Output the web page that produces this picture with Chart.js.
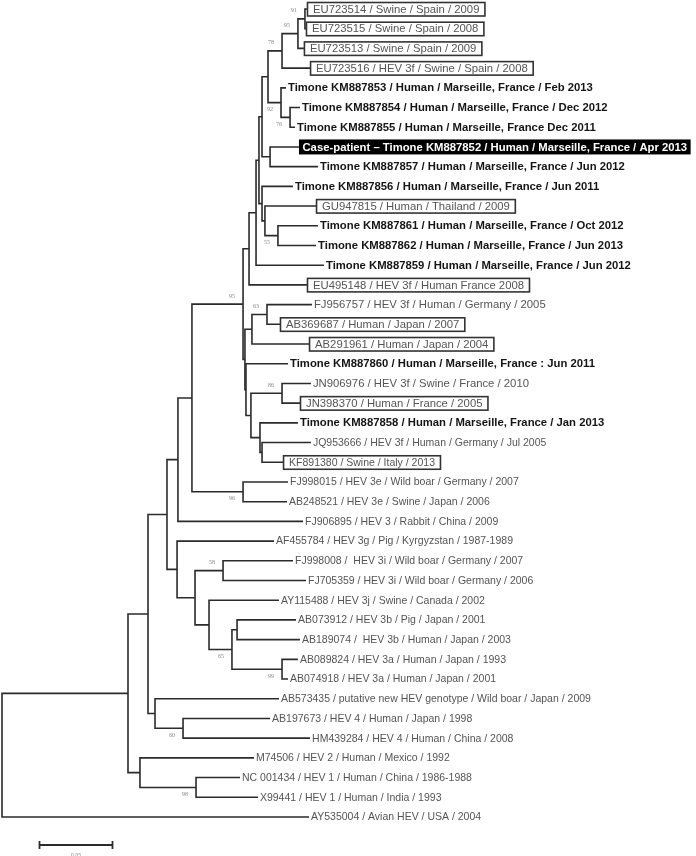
<!DOCTYPE html>
<html><head><meta charset="utf-8">
<script src="https://cdn.jsdelivr.net/npm/chart.js@4.4.1/dist/chart.umd.min.js"></script>
<style>html,body{margin:0;padding:0;background:#fff}canvas{display:block}</style>
</head><body>
<canvas id="c" width="696" height="856"></canvas>
<script>
// ---------------- DATA ----------------
const leafLabels = [
  'EU723514 / Swine / Spain / 2009',
  'EU723515 / Swine / Spain / 2008',
  'EU723513 / Swine / Spain / 2009',
  'EU723516 / HEV 3f / Swine / Spain / 2008',
  'Timone KM887853 / Human / Marseille, France / Feb 2013',
  'Timone KM887854 / Human / Marseille, France / Dec 2012',
  'Timone KM887855 / Human / Marseille, France Dec 2011',
  'Case-patient \u2013 Timone KM887852 / Human / Marseille, France / Apr 2013',
  'Timone KM887857 / Human / Marseille, France / Jun 2012',
  'Timone KM887856 / Human / Marseille, France / Jun 2011',
  'GU947815 / Human / Thailand / 2009',
  'Timone KM887861 / Human / Marseille, France / Oct 2012',
  'Timone KM887862 / Human / Marseille, France / Jun 2013',
  'Timone KM887859 / Human / Marseille, France / Jun 2012',
  'EU495148 / HEV 3f / Human France 2008',
  'FJ956757 / HEV 3f / Human / Germany / 2005',
  'AB369687 / Human / Japan / 2007',
  'AB291961 / Human / Japan / 2004',
  'Timone KM887860 / Human / Marseille, France : Jun 2011',
  'JN906976 / HEV 3f / Swine / France / 2010',
  'JN398370 / Human / France / 2005',
  'Timone KM887858 / Human / Marseille, France / Jan 2013',
  'JQ953666 / HEV 3f / Human / Germany / Jul 2005',
  'KF891380 / Swine / Italy / 2013',
  'FJ998015 / HEV 3e / Wild boar / Germany / 2007',
  'AB248521 / HEV 3e / Swine / Japan / 2006',
  'FJ906895 / HEV 3 / Rabbit / China / 2009',
  'AF455784 / HEV 3g / Pig / Kyrgyzstan / 1987-1989',
  'FJ998008 /  HEV 3i / Wild boar / Germany / 2007',
  'FJ705359 / HEV 3i / Wild boar / Germany / 2006',
  'AY115488 / HEV 3j / Swine / Canada / 2002',
  'AB073912 / HEV 3b / Pig / Japan / 2001',
  'AB189074 /  HEV 3b / Human / Japan / 2003',
  'AB089824 / HEV 3a / Human / Japan / 1993',
  'AB074918 / HEV 3a / Human / Japan / 2001',
  'AB573435 / putative new HEV genotype / Wild boar / Japan / 2009',
  'AB197673 / HEV 4 / Human / Japan / 1998',
  'HM439284 / HEV 4 / Human / China / 2008',
  'M74506 / HEV 2 / Human / Mexico / 1992',
  'NC 001434 / HEV 1 / Human / China / 1986-1988',
  'X99441 / HEV 1 / Human / India / 1993',
  'AY535004 / Avian HEV / USA / 2004'
];
// category of each sequence: reference in frame, Timone strain, case-patient, other reference
const leafGroup = [
  'framed','framed','framed','framed','timone','timone','timone','case','timone','timone',
  'framed','timone','timone','timone','framed','ref','framed','framed','timone','ref',
  'framed','timone','ref','framed','ref','ref','ref','ref','ref','ref',
  'ref','ref','ref','ref','ref','ref','ref','ref','ref','ref','ref','ref'
];
// cumulative distance from the root (substitutions/site)
const leafDepth = [
  0.2089,0.2082,0.2068,0.2110,0.1945,0.2041,0.2007,0.2034,0.2164,0.1993,
  0.2151,0.2164,0.2151,0.2205,0.2089,0.2123,0.1904,0.2103,0.1959,0.2116,
  0.2041,0.2027,0.2116,0.1925,0.1959,0.1952,0.2062,0.1863,0.1993,0.2082,
  0.1897,0.2014,0.2041,0.2027,0.1959,0.1897,0.1836,0.2110,0.1726,0.1630,
  0.1753,0.2103
];
const leafParent = [
  'n91','n91','n95a','n78','n92','n76','n76','nCase','nCase','nV',
  'nW','n55','n55','nX','nY','n63','n63','n63p','nZ','n86',
  'n86','n858','nJQ','nJQ','nJ','nJ','nK','nL','nQ','nQ',
  'nN','nR','nR','nP','nP','nF','nG','nG','nC','nD','nD','n0'
];
const nodeIds = ['n0','nA','nB','nC','nD','nE','nF','nG','nK','nL','nH','nI','nJ','nM','nQ','nN','nO','nR','nP',
  'nY','nI2','nX','nW0','nU','nV','nT','nCase','n78','n92','n95a','n91','n76','nW','n55','n63p','n63','nZ','N251','n86','n858','nJQ'];
const nodeParent = [null,'n0','nA','nA','nC','nB','nB','nF','nE','nE','nK','nH','nH','nL','nM','nM','nN','nO','nO',
  'nI','nI','nY','nX','nW0','nW0','nU','nU','nT','nT','n78','n95a','n92','nV','nW','nI2','n63p','nI2','nZ','N251','N251','n858'];
const nodeDepth = [0,0.0863,0.1000,0.0945,0.1329,0.1130,0.1048,0.1240,0.1205,0.1199,0.1301,0.1651,0.1651,0.1322,0.1514,0.1418,0.1575,0.1610,0.1918,
  0.1692,0.1664,0.1740,0.1760,0.1781,0.1781,0.1822,0.1836,0.1918,0.1911,0.2027,0.2075,0.1973,0.1801,0.1890,0.1712,0.1815,0.1671,0.1705,0.1918,0.1767,0.1781];
const bootstrapNodes  = ['n91','n95a','n78','n92','n76','n55','nI','n63','n86','nJ','nQ','nO','nP','nG','nD'];
const bootstrapValues = [91,95,78,92,76,55,95,63,86,96,58,65,99,60,98];
const scaleBarLength = 0.05;
const scaleBarLabel = '0.05';

// ---------------- LAYOUT / STYLE ----------------
const PX_PER_UNIT = 1460, ROOT_PX = 2;
const ROW_PX = 19.707, FIRST_ROW_PX = 9;
const W = 696, H = 856;
const FONT = '"Liberation Sans", Arial, Helvetica, sans-serif';
const BIG = 11.3, SMALL = 10.5;
const smallFrom = 22; // rows below this use the smaller label size
const belowLabels = new Set(['n92','n76','n55','nJ','nO','nP','nG','nD']);
const LINE = '#2b2b2b';

// build tree
const depthOf = {}, parentOf = {}, children = {};
nodeIds.forEach((id,i)=>{depthOf[id]=nodeDepth[i]; parentOf[id]=nodeParent[i]; children[id]=[];});
leafLabels.forEach((_,i)=>{const id='L'+i; depthOf[id]=leafDepth[i]; parentOf[id]=leafParent[i]; children[id]=null;});
Object.keys(parentOf).forEach(id=>{ if(parentOf[id]) children[parentOf[id]].push(id); });
const rowOf = {};
function row(id){
  if(rowOf[id]!==undefined) return rowOf[id];
  if(children[id]===null){ rowOf[id]=+id.slice(1); return rowOf[id]; }
  const rs = children[id].map(row);
  rowOf[id] = (Math.min(...rs)+Math.max(...rs))/2;
  return rowOf[id];
}
row('n0');

const datasets = nodeIds.map(id=>{
  const ch = children[id].slice().sort((a,b)=>rowOf[a]-rowOf[b]);
  const a = ch[0], b = ch[ch.length-1];
  return {
    data:[{x:depthOf[a],y:rowOf[a]},{x:depthOf[id],y:rowOf[a]},{x:depthOf[id],y:rowOf[b]},{x:depthOf[b],y:rowOf[b]}],
    showLine:true, pointRadius:0, borderColor:LINE, borderWidth:1.6, tension:0, fill:false,
    borderJoinStyle:'miter', borderCapStyle:'butt'
  };
});

const labelPlugin = {
  id:'treeText',
  afterDatasetsDraw(chart){
    const {ctx, scales:{x,y}} = chart;
    ctx.save();
    ctx.textBaseline = 'middle';
    ctx.textAlign = 'left';
    leafLabels.forEach((t,i)=>{
      const px = x.getPixelForValue(leafDepth[i]);
      const py = y.getPixelForValue(i);
      const g = leafGroup[i];
      const sz = i >= smallFrom ? SMALL : BIG;
      if(g==='case'){
        ctx.font = `bold ${BIG}px ${FONT}`;
        const w = ctx.measureText(t).width;
        ctx.fillStyle = '#000';
        ctx.fillRect(px, py-7.5, w+7, 15);
        ctx.fillStyle = '#fff';
        ctx.fillText(t, px+3.5, py+0.5);
      } else if(g==='timone'){
        ctx.font = `bold ${BIG}px ${FONT}`;
        ctx.fillStyle = '#151515';
        ctx.fillText(t, px+2, py+0.5);
      } else if(g==='framed'){
        ctx.font = `${sz}px ${FONT}`;
        const w = ctx.measureText(t).width;
        ctx.strokeStyle = '#333';
        ctx.lineWidth = 1.6;
        ctx.strokeRect(px+0.5, py-6.5, w+11, 13.5);
        ctx.fillStyle = '#555';
        ctx.fillText(t, px+6, py+0.5);
      } else {
        ctx.font = `${sz}px ${FONT}`;
        ctx.fillStyle = '#555';
        ctx.fillText(t, px+2, py+0.5);
      }
    });
    // bootstrap values
    ctx.font = `6px "Liberation Serif", "DejaVu Serif", serif`;
    ctx.fillStyle = '#888';
    ctx.textAlign = 'center';
    bootstrapNodes.forEach((id,i)=>{
      const px = x.getPixelForValue(depthOf[id]) - 11;
      const py = y.getPixelForValue(rowOf[id]) + (belowLabels.has(id) ? 7 : -8);
      ctx.fillText(String(bootstrapValues[i]), px, py);
    });
    // scale bar
    const x0 = 39.5, yb = 845;
    const len = x.getPixelForValue(scaleBarLength) - x.getPixelForValue(0);
    ctx.strokeStyle = LINE; ctx.lineWidth = 1.8;
    ctx.beginPath();
    ctx.moveTo(x0, yb); ctx.lineTo(x0+len, yb);
    ctx.moveTo(x0, yb-4); ctx.lineTo(x0, yb+4);
    ctx.moveTo(x0+len, yb-4); ctx.lineTo(x0+len, yb+4);
    ctx.stroke();
    ctx.fillStyle = '#888';
    ctx.fillText(scaleBarLabel, x0+len/2, yb+10);
    ctx.restore();
  }
};

new Chart(document.getElementById('c'), {
  type:'scatter',
  data:{datasets},
  options:{
    responsive:false, animation:false, devicePixelRatio:1, events:[],
    layout:{padding:0},
    plugins:{legend:{display:false}, tooltip:{enabled:false}},
    scales:{
      x:{type:'linear', display:false, min:-ROOT_PX/PX_PER_UNIT, max:(W-ROOT_PX)/PX_PER_UNIT},
      y:{type:'linear', display:false, reverse:true, min:-FIRST_ROW_PX/ROW_PX, max:(H-FIRST_ROW_PX)/ROW_PX}
    }
  },
  plugins:[labelPlugin]
});
</script>
</body></html>
